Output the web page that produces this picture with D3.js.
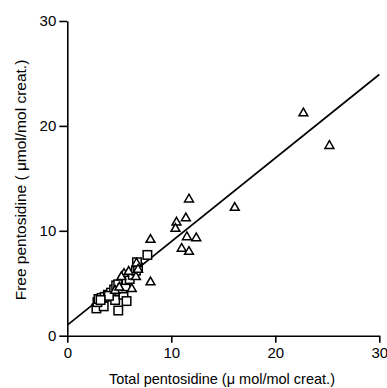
<!DOCTYPE html>
<html><head><meta charset="utf-8">
<script src="https://cdn.jsdelivr.net/npm/d3@7"></script>
<style>body{margin:0;background:#fff}svg{display:block}text{font-family:"Liberation Sans",Arial,sans-serif;fill:#000}</style>
</head><body>
<script>
const ticks = [0, 10, 20, 30];
const squaresX = [2.8,3.5,2.9,3.0,3.3,3.6,3.9,4.2,4.5,4.7,4.9,4.6,4.9,5.4,5.7,5.3,5.6,5.7,6.0,6.3,6.6,6.8,6.7,7.7,4.0,3.2];
const squaresY = [2.6,2.8,3.2,3.5,3.6,3.7,3.9,4.1,4.4,4.8,4.9,3.4,2.4,3.9,3.3,4.5,4.7,5.3,5.4,5.8,6.2,6.5,7.0,7.7,3.8,3.4];
const trianglesX = [22.7,25.2,11.7,16.1,11.4,10.5,10.4,11.5,12.4,8.0,11.0,11.7,8.0,6.2,5.45,5.9,6.6,6.65,5.2,4.6,5.0,6.8];
const trianglesY = [21.2,18.1,13.0,12.2,11.2,10.8,10.2,9.4,9.3,9.15,8.3,8.0,5.1,4.45,5.9,6.1,5.6,6.9,5.6,4.3,4.6,6.3];
const fitX = [0, 30];
const fitY = [1.0, 24.9];
const xTitle = "Total pentosidine (\u03bc mol/mol creat.)";
const yTitle = "Free pentosidine ( \u03bcmol/mol creat.)";

const W = 387, H = 388;
const svg = d3.select("body").append("svg").attr("width", W).attr("height", H);
const x = d3.scaleLinear().domain([0, 30]).range([67.3, 379.3]);
const y = d3.scaleLinear().domain([0, 30]).range([335.7, 21]);

const xa = svg.append("g").attr("transform", `translate(0,${y(0)})`)
  .call(d3.axisBottom(x).tickValues(ticks).tickSize(7).tickSizeOuter(0).tickPadding(5));
const ya = svg.append("g").attr("transform", `translate(${x(0)},0)`)
  .call(d3.axisLeft(y).tickValues(ticks).tickSize(8).tickSizeOuter(0).tickPadding(3));
[xa, ya].forEach(a => {
  a.selectAll("path,line").attr("stroke", "#000").attr("stroke-width", 1.6);
  a.selectAll("text").attr("font-size", 15).attr("fill", "#000").attr("font-family", '"Liberation Sans",Arial,sans-serif');
});

svg.append("line")
  .attr("x1", x(fitX[0])).attr("y1", y(fitY[0]))
  .attr("x2", x(fitX[1])).attr("y2", y(fitY[1]))
  .attr("stroke", "#000").attr("stroke-width", 1.7);

const sq = 8.5;
svg.append("g").selectAll("rect").data(squaresX.map((v, i) => [v, squaresY[i]])).join("rect")
  .attr("x", d => x(d[0]) - sq / 2).attr("y", d => y(d[1]) - sq / 2)
  .attr("width", sq).attr("height", sq)
  .attr("fill", "#fff").attr("stroke", "#000").attr("stroke-width", 1.5);

const tri = d3.symbol().type(d3.symbolTriangle).size(34);
svg.append("g").selectAll("path").data(trianglesX.map((v, i) => [v, trianglesY[i]])).join("path")
  .attr("d", tri)
  .attr("transform", d => `translate(${x(d[0])},${y(d[1])})`)
  .attr("fill", "#fff").attr("stroke", "#000").attr("stroke-width", 1.5);

svg.append("text").attr("x", 222).attr("y", 384).attr("text-anchor", "middle")
  .attr("font-size", 14.5).text(xTitle);
svg.append("text").attr("transform", "translate(26,180) rotate(-90)").attr("text-anchor", "middle")
  .attr("font-size", 15.5).text(yTitle);
</script>
</body></html>
